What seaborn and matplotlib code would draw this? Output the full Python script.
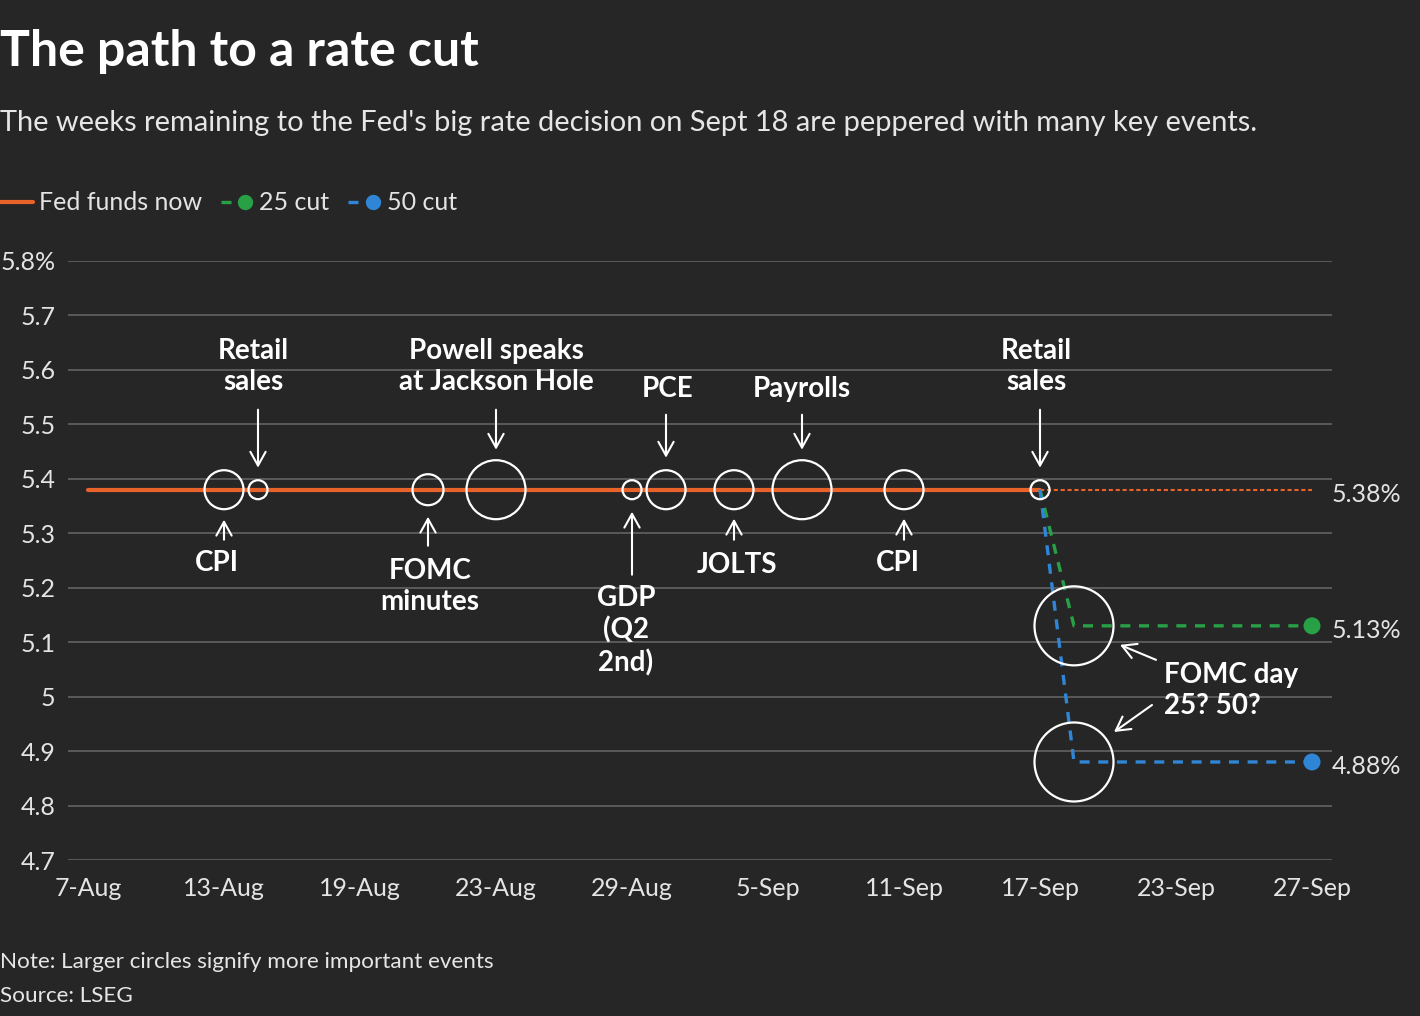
import numpy as np
import pandas as pd
import matplotlib
matplotlib.use('Agg')
import matplotlib.pyplot as plt
import seaborn as sns
from matplotlib.lines import Line2D
from matplotlib.legend_handler import HandlerTuple
from matplotlib.transforms import offset_copy

# data
start_day = '2024-08-07'
holidays = ['2024-09-02']  # Labor Day, axis skips it (business days only)

tick_dates = ['2024-08-07', '2024-08-13', '2024-08-19', '2024-08-23', '2024-08-29',
              '2024-09-05', '2024-09-11', '2024-09-17', '2024-09-23', '2024-09-27']
tick_labels = ['7-Aug', '13-Aug', '19-Aug', '23-Aug', '29-Aug',
               '5-Sep', '11-Sep', '17-Sep', '23-Sep', '27-Sep']
y_ticks = [4.7, 4.8, 4.9, 5.0, 5.1, 5.2, 5.3, 5.4, 5.5, 5.6, 5.7, 5.8]

fed_dates = ['2024-08-07', '2024-09-17']
fed_rate = [5.38, 5.38]
fed_ext_dates = ['2024-09-17', '2024-09-27']
fed_ext_rate = [5.38, 5.38]

cut_dates = ['2024-09-17', '2024-09-18', '2024-09-27']
cut25 = [5.38, 5.13, 5.13]
cut50 = [5.38, 4.88, 4.88]

event_labels = ['CPI', 'Retail\nsales', 'FOMC\nminutes', 'Powell speaks\nat Jackson Hole',
                'GDP\n(Q2\n2nd)', 'PCE', 'JOLTS', 'Payrolls', 'CPI', 'Retail\nsales',
                'FOMC day\n25? 50?', 'FOMC day\n25? 50?']
event_dates = ['2024-08-13', '2024-08-14', '2024-08-21', '2024-08-23', '2024-08-29',
               '2024-08-30', '2024-09-04', '2024-09-06', '2024-09-11', '2024-09-17',
               '2024-09-18', '2024-09-18']
event_rates = [5.38, 5.38, 5.38, 5.38, 5.38, 5.38, 5.38, 5.38, 5.38, 5.38, 5.13, 4.88]
event_importance = [3, 1, 2, 4, 1, 3, 3, 4, 3, 1, 5, 5]


def bday(d):
    return np.busday_count(start_day, d, holidays=holidays)


events = pd.DataFrame({'x': bday(event_dates), 'rate': event_rates,
                       'importance': event_importance, 'label': event_labels})

# colours / style
BG = '#262626'
GRID = '#5a5a5a'
ORANGE = '#e8622a'
GREEN = '#27a046'
BLUE = '#2f86d6'
TXT = '#e4e4e4'

sns.set_style('dark')
plt.rcParams['font.family'] = ['Lato', 'DejaVu Sans']

fig = plt.figure(figsize=(14.2, 10.16), dpi=100, facecolor=BG)
W, H = 1420, 1016
ax = fig.add_axes([68 / W, 1 - 860 / H, (1332 - 68) / W, (860 - 261) / H])
ax.set_facecolor(BG)

# lines
sns.lineplot(x=bday(fed_ext_dates), y=fed_ext_rate, ax=ax, color=ORANGE, lw=1.5,
             linestyle=(0, (2, 1.3)), zorder=2)
sns.lineplot(x=bday(fed_dates), y=fed_rate, ax=ax, color=ORANGE, lw=3, zorder=3)
sns.lineplot(x=bday(cut_dates), y=cut25, ax=ax, color=GREEN, lw=2.4,
             linestyle=(0, (3, 2.6)), zorder=4, sort=False)
sns.lineplot(x=bday(cut_dates), y=cut50, ax=ax, color=BLUE, lw=2.4,
             linestyle=(0, (3, 2.6)), zorder=4, sort=False)
sns.scatterplot(x=bday(cut_dates[-1:]), y=cut25[-1:], ax=ax, color=GREEN, s=150,
                edgecolor='none', zorder=5)
sns.scatterplot(x=bday(cut_dates[-1:]), y=cut50[-1:], ax=ax, color=BLUE, s=150,
                edgecolor='none', zorder=5)

# event circles, size by importance (diameter in px)
diam_px = {1: 19, 2: 31, 3: 39, 4: 59, 5: 79}
sizes = {k: (v * 0.72) ** 2 for k, v in diam_px.items()}
sns.scatterplot(data=events, x='x', y='rate', size='importance', sizes=sizes,
                facecolor='none', edgecolor='white', linewidth=1.6, ax=ax,
                legend=False, zorder=6, clip_on=False)

# axes
ax.set_xlim(-20 / 34, 36 + 20 / 34)
ax.set_ylim(4.7, 5.8)
ax.set_xticks(bday(tick_dates))
ax.set_xticklabels(tick_labels)
ax.set_yticks(y_ticks)
ax.set_yticklabels([f'{v:g}%' if v == max(y_ticks) else f'{v:g}' for v in y_ticks])
ax.tick_params(axis='both', length=0, labelsize=18, colors=TXT)
ax.tick_params(axis='y', pad=9)
ax.tick_params(axis='x', pad=12)
ax.grid(axis='y', color=GRID, lw=1.4)
ax.grid(axis='x', visible=False)
for s in ax.spines.values():
    s.set_visible(False)
ax.set_xlabel('')
ax.set_ylabel('')

# value labels on the right
for v in [fed_ext_rate[-1], cut25[-1], cut50[-1]]:
    ax.annotate(f'{v:.2f}%', xy=(1, v), xycoords=('axes fraction', 'data'),
                xytext=(0, -5), textcoords='offset pixels', ha='left', va='center',
                fontsize=18, color=TXT, annotation_clip=False)


# event annotations: (event index, arrow tip dy, arrow tail dy, text dx, text dy) in px
def arrow(x, y, tip, tail):
    ax.annotate('', xy=(x, y),
                xycoords=offset_copy(ax.transData, fig=fig, x=tip[0], y=tip[1], units='dots'),
                xytext=(x, y),
                textcoords=offset_copy(ax.transData, fig=fig, x=tail[0], y=tail[1], units='dots'),
                arrowprops=dict(arrowstyle='->,head_length=0.45,head_width=0.25',
                                color='white', lw=1.5, shrinkA=0, shrinkB=0,
                                mutation_scale=22))


LBL = dict(fontsize=20, fontweight='bold', color='white', linespacing=1.25)
ann = [(0, -30, -50, -7, -73), (1, 22, 80, -5, 123), (2, -27, -56, 2, -97),
       (3, 40, 80, 0, 123), (4, -22, -85, -6, -141), (5, 32, 75, 2, 101),
       (6, -29, -50, 3, -75), (7, 40, 75, 0, 101), (8, -29, -50, -6, -73),
       (9, 22, 80, -4, 123)]
for i, tip, tail, tdx, tdy in ann:
    x, y = events.x[i], events.rate[i]
    arrow(x, y, (0, tip), (0, tail))
    ax.annotate(events.label[i], xy=(x, y), xytext=(tdx, tdy), textcoords='offset pixels',
                ha='center', va='center', **LBL)

# FOMC day
x25, y25 = events.x[10], events.rate[10]
x50, y50 = events.x[11], events.rate[11]
arrow(x25, y25, (46, -19), (82, -34))
arrow(x50, y50, (40, 30), (78, 57))
ax.annotate(events.label[10], xy=(x25, y25), xytext=(90, -65), textcoords='offset pixels',
            ha='left', va='center', **LBL)

# legend
h_fed = Line2D([], [], color=ORANGE, lw=3)
h25 = (Line2D([], [], color=GREEN, lw=2.4, ls=(0, (3, 10))),
       Line2D([], [], color=GREEN, marker='o', ms=10, ls='none'))
h50 = (Line2D([], [], color=BLUE, lw=2.4, ls=(0, (3, 10))),
       Line2D([], [], color=BLUE, marker='o', ms=10, ls='none'))
leg = fig.legend([h_fed, h25, h50], ['Fed funds now', '25 cut', '50 cut'],
                 handler_map={tuple: HandlerTuple(ndivide=2, pad=0)},
                 loc='center left', bbox_to_anchor=(0, 1 - 203 / H), ncol=3,
                 frameon=False, fontsize=18, handlelength=1.3, handletextpad=0.25,
                 columnspacing=0.75, borderpad=0, borderaxespad=0, labelcolor=TXT)

# titles and notes
fig.text(0, 1 - 66 / H, 'The path to a rate cut', fontsize=36, fontweight='bold',
         color='white', ha='left', va='baseline')
fig.text(0, 1 - 131 / H,
         "The weeks remaining to the Fed's big rate decision on Sept 18 are peppered with many key events.",
         fontsize=20.9, color='#e6e6e6', ha='left', va='baseline')
fig.text(0, 1 - 968 / H, 'Note: Larger circles signify more important events',
         fontsize=16.2, color='#e6e6e6', ha='left', va='baseline')
fig.text(0, 1 - 1002 / H, 'Source: LSEG', fontsize=16.2, color='#e6e6e6',
         ha='left', va='baseline')

fig.savefig('out.png', dpi=100, facecolor=BG)
